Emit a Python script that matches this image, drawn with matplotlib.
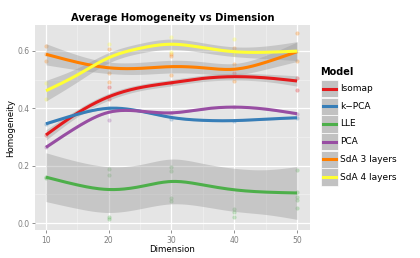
import numpy as np
import matplotlib
matplotlib.use("Agg")
import matplotlib.pyplot as plt
from matplotlib.patches import Rectangle
from matplotlib.lines import Line2D

# smoothed curves (value at dimension 10, 15, ..., 50)
dims = [10, 15, 20, 25, 30, 35, 40, 45, 50]
models = ["Isomap", "k\u2212PCA", "LLE", "PCA", "SdA 3 layers", "SdA 4 layers"]
colors = ["#E41A1C", "#377EB8", "#4DAF4A", "#984EA3", "#FF7F00", "#FFFF33"]

isomap_fit = [0.307, 0.383, 0.440, 0.472, 0.489, 0.504, 0.510, 0.506, 0.495]
kpca_fit = [0.346, 0.379, 0.400, 0.390, 0.368, 0.358, 0.357, 0.362, 0.367]
lle_fit = [0.160, 0.133, 0.117, 0.127, 0.145, 0.133, 0.116, 0.108, 0.105]
pca_fit = [0.264, 0.335, 0.386, 0.390, 0.384, 0.397, 0.404, 0.397, 0.381]
sda3_fit = [0.588, 0.560, 0.541, 0.539, 0.545, 0.541, 0.536, 0.560, 0.597]
sda4_fit = [0.461, 0.516, 0.576, 0.609, 0.623, 0.611, 0.597, 0.595, 0.599]

# half width of the grey confidence band
isomap_se = [0.018, 0.013, 0.012, 0.011, 0.011, 0.011, 0.012, 0.013, 0.018]
kpca_se = [0.004, 0.003, 0.003, 0.003, 0.003, 0.003, 0.003, 0.003, 0.004]
lle_se = [0.085, 0.082, 0.080, 0.077, 0.078, 0.075, 0.075, 0.078, 0.092]
pca_se = [0.004, 0.003, 0.003, 0.003, 0.003, 0.003, 0.003, 0.003, 0.004]
sda3_se = [0.037, 0.026, 0.020, 0.021, 0.022, 0.021, 0.020, 0.024, 0.034]
sda4_se = [0.036, 0.024, 0.018, 0.017, 0.018, 0.017, 0.017, 0.022, 0.033]

# faint raw points
isomap_x = [10, 20, 20, 30, 40, 50, 50]
isomap_y = [0.307, 0.473, 0.432, 0.489, 0.522, 0.504, 0.464]
kpca_x = [10, 20, 30, 40, 50]
kpca_y = [0.346, 0.400, 0.362, 0.357, 0.367]
lle_x = [10, 10, 20, 20, 20, 20, 30, 30, 30, 30, 40, 40, 40, 50, 50, 50, 50, 50]
lle_y = [0.162, 0.158, 0.187, 0.167, 0.021, 0.013, 0.197, 0.182, 0.087, 0.078,
         0.049, 0.038, 0.023, 0.185, 0.108, 0.090, 0.079, 0.054]
pca_x = [10, 20, 30, 40, 50]
pca_y = [0.264, 0.360, 0.384, 0.404, 0.381]
sda3_x = [10, 10, 10, 20, 20, 20, 30, 30, 30, 40, 40, 40, 50, 50]
sda3_y = [0.618, 0.566, 0.588, 0.606, 0.524, 0.493, 0.588, 0.581, 0.516,
          0.611, 0.553, 0.495, 0.661, 0.565]
sda4_x = [10, 10, 20, 30, 30, 40, 40, 50]
sda4_y = [0.489, 0.432, 0.623, 0.649, 0.597, 0.641, 0.588, 0.600]

fits = [isomap_fit, kpca_fit, lle_fit, pca_fit, sda3_fit, sda4_fit]
ses = [isomap_se, kpca_se, lle_se, pca_se, sda3_se, sda4_se]
pts = [(isomap_x, isomap_y), (kpca_x, kpca_y), (lle_x, lle_y),
       (pca_x, pca_y), (sda3_x, sda3_y), (sda4_x, sda4_y)]


def spline(x, y, xs):
    # natural cubic spline, only used to draw a smooth line through the read values
    x = np.asarray(x, float)
    y = np.asarray(y, float)
    n = len(x)
    h = np.diff(x)
    A = np.zeros((n, n))
    b = np.zeros(n)
    A[0, 0] = A[-1, -1] = 1
    for i in range(1, n - 1):
        A[i, i - 1] = h[i - 1]
        A[i, i] = 2 * (h[i - 1] + h[i])
        A[i, i + 1] = h[i]
        b[i] = 3 * ((y[i + 1] - y[i]) / h[i] - (y[i] - y[i - 1]) / h[i - 1])
    c = np.linalg.solve(A, b)
    out = np.empty_like(xs)
    for k, xv in enumerate(xs):
        i = min(np.searchsorted(x, xv, side="right") - 1, n - 2)
        i = max(i, 0)
        d = xv - x[i]
        bb = (y[i + 1] - y[i]) / h[i] - h[i] * (2 * c[i] + c[i + 1]) / 3
        dd = (c[i + 1] - c[i]) / (3 * h[i])
        out[k] = y[i] + bb * d + c[i] * d ** 2 + dd * d ** 3
    return out


fig = plt.figure(figsize=(4.2, 2.58), dpi=100)
fig.patch.set_facecolor("white")
ax = fig.add_axes([35 / 420, 1 - 230 / 258, 275 / 420, 205 / 258])
ax.set_facecolor("#E5E5E5")
for s in ax.spines.values():
    s.set_visible(False)

xs = np.linspace(10, 50, 200)
for (px, py), col in zip(pts, colors):
    ax.scatter(px, py, s=9, color=col, alpha=0.3, linewidths=0, zorder=2)
for fit, se, col in zip(fits, ses, colors):
    f = spline(dims, fit, xs)
    e = spline(dims, se, xs)
    ax.fill_between(xs, f - e, f + e, color="#999999", alpha=0.4, linewidth=0, zorder=3)
for fit, col in zip(fits, colors):
    ax.plot(xs, spline(dims, fit, xs), color=col, lw=2.2, zorder=4, solid_capstyle="butt")

ax.set_xlim(8.25, 52.07)
ax.set_ylim(-0.024, 0.69)
ax.set_xticks([10, 20, 30, 40, 50])
ax.set_xticks([15, 25, 35, 45], minor=True)
ax.set_yticks([0.0, 0.2, 0.4, 0.6])
ax.set_yticks([0.1, 0.3, 0.5], minor=True)
ax.set_yticklabels(["0.0", "0.2", "0.4", "0.6"])
ax.grid(which="major", color="white", lw=0.9, zorder=0)
ax.grid(which="minor", color="#F2F2F2", lw=0.45, zorder=0)
ax.set_axisbelow(True)
ax.tick_params(which="major", colors="#7F7F7F", labelsize=5.5, length=2.5, width=0.6, pad=1.5)
ax.tick_params(which="minor", length=0)
ax.set_xlabel("Dimension", fontsize=6.2, labelpad=0.5)
ax.set_ylabel("Homogeneity", fontsize=6.2, labelpad=1.5)
ax.set_title("Average Homogeneity vs Dimension", fontsize=7.2, fontweight="bold", pad=3)

# legend, drawn by hand in pixel positions
W, H = 420.0, 258.0
fig.text(320 / W, 1 - 72 / H, "Model", fontsize=7, fontweight="bold", va="center", ha="left")
row_y = [88.7, 106.3, 124.0, 141.5, 159.2, 177.0]
for name, col, yc in zip(models, colors, row_y):
    fig.add_artist(Rectangle((321 / W, 1 - (yc + 8.7) / H), 17 / W, 17.4 / H,
                             transform=fig.transFigure, facecolor="#C2C2C2",
                             edgecolor="white", lw=0.5))
    fig.add_artist(Line2D([323 / W, 336 / W], [1 - yc / H, 1 - yc / H],
                          transform=fig.transFigure, color=col, lw=2.2))
    fig.text(340.5 / W, 1 - yc / H, name, fontsize=6.5, va="center", ha="left")

fig.savefig("out.png", dpi=100)
